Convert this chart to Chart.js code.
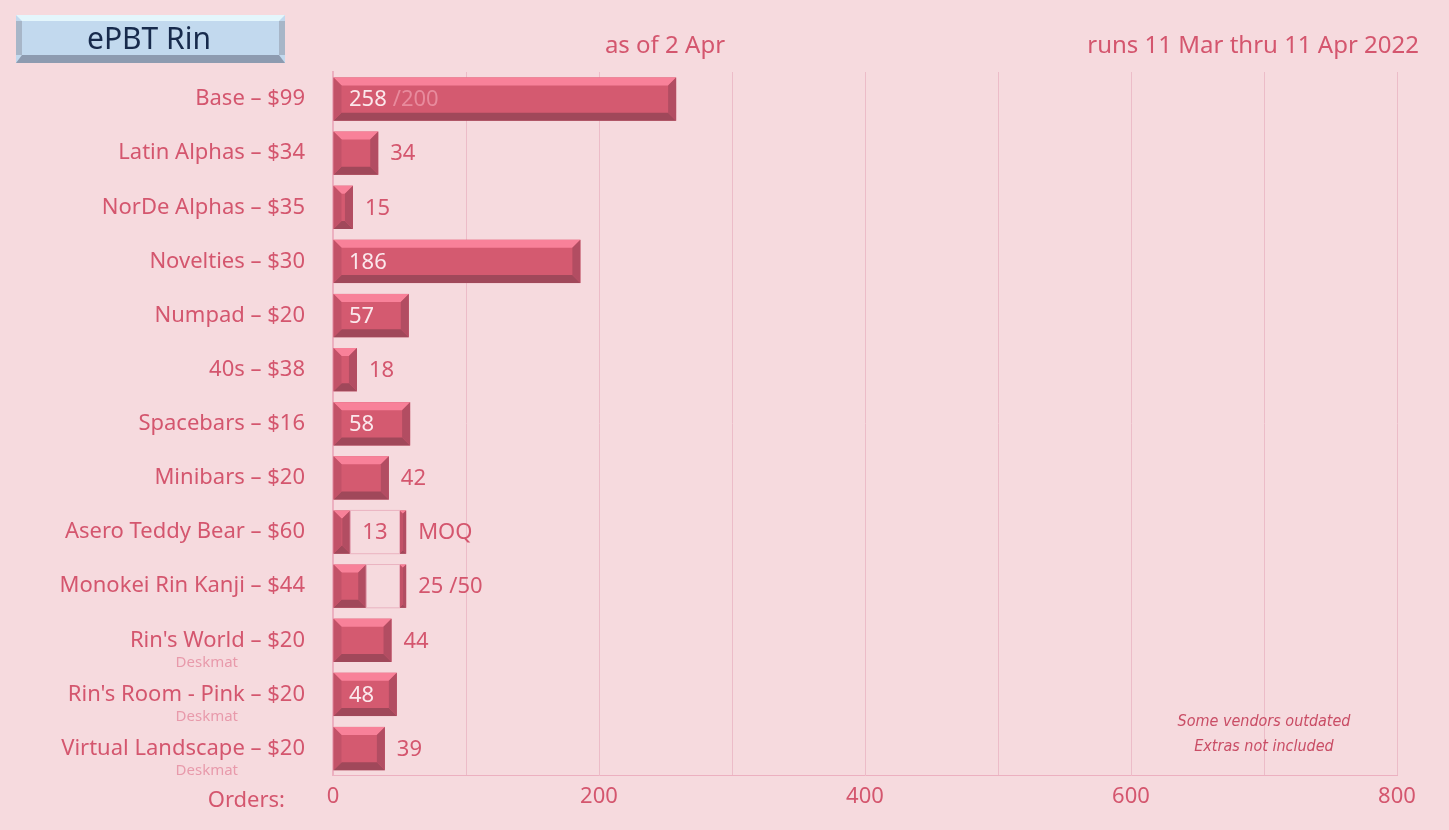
<!DOCTYPE html>
<html><head><meta charset="utf-8">
<script src="https://cdn.jsdelivr.net/npm/chart.js@4/dist/chart.umd.min.js"></script>
<style>
html,body{margin:0;background:#f6dade;overflow:hidden;}
#wrap{width:1449px;height:830px;position:relative;}
</style></head>
<body><div id="wrap"><canvas id="c" width="1449" height="830"></canvas></div>
<script>
var categories = ["Base – $99","Latin Alphas – $34","NorDe Alphas – $35","Novelties – $30","Numpad – $20","40s – $38","Spacebars – $16","Minibars – $20","Asero Teddy Bear – $60","Monokei Rin Kanji – $44","Rin's World – $20","Rin's Room - Pink – $20","Virtual Landscape – $20"];
var subLabels = ["","","","","","","","","","","Deskmat","Deskmat","Deskmat"];
var orders = [258,34,15,186,57,18,58,42,13,25,44,48,39];
var moqTarget = [null,null,null,null,null,null,null,null,50,50,null,null,null];
var labelSuffix = ["/200","","","","","","","","MOQ","/50","","",""];
var labelInside = [true,false,false,true,true,false,true,false,true,false,false,true,false];
var xTicks = [0,200,400,600,800];

var red = '#d45a70', textRed = '#d4566e';
var gapData = orders.map(function(v,i){ return moqTarget[i] ? moqTarget[i]-v : null; });
var capData = moqTarget.map(function(t){ return t ? 5 : null; });

function bevel(ctx, x0, x1, y0, y1, fill) {
  var b = Math.min(8, (x1-x0)/2, (y1-y0)/2);
  ctx.fillStyle = fill; ctx.fillRect(x0,y0,x1-x0,y1-y0);
  ctx.fillStyle = '#f88199';
  ctx.beginPath(); ctx.moveTo(x0,y0); ctx.lineTo(x1,y0); ctx.lineTo(x1-b,y0+b); ctx.lineTo(x0+b,y0+b); ctx.fill();
  ctx.fillStyle = '#a0485a';
  ctx.beginPath(); ctx.moveTo(x0,y1); ctx.lineTo(x1,y1); ctx.lineTo(x1-b,y1-b); ctx.lineTo(x0+b,y1-b); ctx.fill();
  ctx.fillStyle = '#b24d62';
  ctx.beginPath(); ctx.moveTo(x1,y0); ctx.lineTo(x1,y1); ctx.lineTo(x1-b,y1-b); ctx.lineTo(x1-b,y0+b); ctx.fill();
  ctx.fillStyle = '#c25268';
  ctx.beginPath(); ctx.moveTo(x0,y0); ctx.lineTo(x0,y1); ctx.lineTo(x0+b,y1-b); ctx.lineTo(x0+b,y0+b); ctx.fill();
}

var deco = {
  id: 'deco',
  afterDatasetsDraw: function(chart) {
    var ctx = chart.ctx, x = chart.scales.x, y = chart.scales.y;
    ctx.save();
    [0,2].forEach(function(di){
      chart.getDatasetMeta(di).data.forEach(function(el, i){
        if (chart.data.datasets[di].data[i] == null) return;
        var h = el.height;
        bevel(ctx, Math.min(el.base, el.x), Math.max(el.base, el.x), el.y-h/2, el.y+h/2, red);
      });
    });
    chart.getDatasetMeta(1).data.forEach(function(el, i){
      if (gapData[i] == null) return;
      ctx.strokeStyle = '#eab3c0'; ctx.lineWidth = 1;
      ctx.strokeRect(el.base, el.y-el.height/2, el.x-el.base, el.height);
    });
    ctx.textBaseline = 'middle';
    orders.forEach(function(v, i){
      var yc = y.getPixelForValue(i) + 1;
      ctx.font = '22px "Noto Sans", sans-serif';
      var tx, col;
      if (moqTarget[i] && labelInside[i]) {
        ctx.textAlign = 'center'; ctx.fillStyle = textRed;
        ctx.fillText(String(v), (x.getPixelForValue(v)+x.getPixelForValue(moqTarget[i]))/2, yc);
        ctx.textAlign = 'left';
        ctx.fillText(labelSuffix[i], x.getPixelForValue(moqTarget[i]+5)+12, yc);
        return;
      }
      var end = x.getPixelForValue(moqTarget[i] ? moqTarget[i]+5 : v);
      ctx.textAlign = 'left';
      if (labelInside[i]) { tx = x.getPixelForValue(0)+16; col = '#fbe8ec'; }
      else { tx = end + 12; col = textRed; }
      ctx.fillStyle = col; ctx.fillText(String(v), tx, yc);
      if (labelSuffix[i]) {
        var w = ctx.measureText(String(v)).width;
        ctx.fillStyle = labelInside[i] ? '#e88b9d' : textRed;
        ctx.fillText(labelSuffix[i], tx + w + 6, yc);
      }
    });
    ctx.font = '15px "Noto Sans", sans-serif'; ctx.fillStyle = '#e89aab'; ctx.textAlign = 'right';
    subLabels.forEach(function(s, i){ if (s) ctx.fillText(s, 238, y.getPixelForValue(i)+22); });
    ctx.fillStyle = textRed; ctx.font = '24px "Noto Sans", sans-serif';
    ctx.textAlign = 'center'; ctx.fillText('as of 2 Apr', 665, 46);
    ctx.textAlign = 'right'; ctx.fillText('runs 11 Mar thru 11 Apr 2022', 1419, 46);
    ctx.font = '22px "Noto Sans", sans-serif'; ctx.fillText('Orders:', 285, 801);
    ctx.font = 'italic 16px "Liberation Sans Narrow", "DejaVu Sans Condensed", sans-serif';
    ctx.fillStyle = '#c94d65'; ctx.textAlign = 'center';
    ctx.fillText('Some vendors outdated', 1264, 722); ctx.fillText('Extras not included', 1264, 747);
    ctx.fillStyle = '#c2d9ee'; ctx.fillRect(16,15,269,48);
    ctx.fillStyle = '#e4f6fc'; ctx.beginPath(); ctx.moveTo(16,15); ctx.lineTo(285,15); ctx.lineTo(279,21); ctx.lineTo(22,21); ctx.fill();
    ctx.fillStyle = '#8d9bb0'; ctx.beginPath(); ctx.moveTo(16,63); ctx.lineTo(285,63); ctx.lineTo(279,55); ctx.lineTo(22,55); ctx.fill();
    ctx.fillStyle = '#a7b6c8'; ctx.fillRect(279,21,6,34); ctx.fillRect(16,21,6,34);
    ctx.fillStyle = '#172a4c'; ctx.font = '30px "Noto Sans", sans-serif'; ctx.textAlign = 'center';
    ctx.fillText('ePBT Rin', 149, 40);
    ctx.restore();
  }
};

new Chart(document.getElementById('c'), {
  type: 'bar',
  data: {
    labels: categories,
    datasets: [
      { data: orders, backgroundColor: 'rgba(0,0,0,0)' },
      { data: gapData, backgroundColor: 'rgba(0,0,0,0)' },
      { data: capData, backgroundColor: 'rgba(0,0,0,0)' }
    ]
  },
  options: {
    indexAxis: 'y', responsive: false, animation: false, devicePixelRatio: 1,
    layout: { padding: { top: 72, right: 52, bottom: 12, left: 0 } },
    plugins: { legend: { display: false }, tooltip: { enabled: false } },
    datasets: { bar: { categoryPercentage: 1, barPercentage: 0.8 } },
    scales: {
      x: { stacked: true, min: 0, max: 800,
        afterBuildTicks: function(s){ s.ticks = [0,100,200,300,400,500,600,700,800].map(function(v){ return {value:v}; }); },
        ticks: { color: textRed, font: { size: 22, family: '"Noto Sans", sans-serif' }, padding: 8, autoSkip: false, maxRotation: 0,
          callback: function(v){ return xTicks.indexOf(v) >= 0 ? v : ''; } },
        grid: { color: '#ecbcc8', drawTicks: false }, border: { color: '#ecb0c0' } },
      y: { stacked: true,
        ticks: { color: textRed, font: { size: 22, family: '"Noto Sans", sans-serif' }, padding: 20, autoSkip: false },
        grid: { display: false }, border: { color: '#ecb0c0', width: 2 },
        afterFit: function(s){ s.width = 333; } }
    }
  },
  plugins: [deco]
});
</script>
</body></html>
